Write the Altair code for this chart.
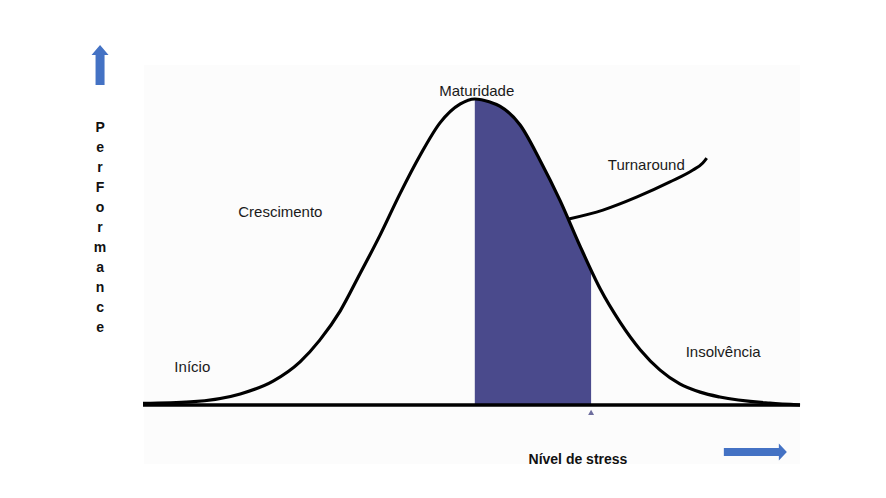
import altair as alt
import pandas as pd

# Bell curve (stress level vs performance)
stress = [0, 7.2, 14.8, 19.8, 23.9, 26.9, 30.0, 33.0, 36.1, 39.1, 42.2, 45.2, 48.3, 50.5,
          52.8, 54.3, 57.4, 60.4, 63.5, 66.5, 69.6, 72.6, 75.7, 78.7, 81.7, 84.8, 87.8, 95.4, 100]
perf = [0.5, 1.0, 3.6, 7.8, 14.1, 21.2, 30.7, 42.8, 55.6, 69.0, 81.7, 92.2, 98.4, 100,
        99.0, 97.7, 91.5, 80.1, 66.7, 52.0, 37.9, 27.1, 18.0, 11.4, 6.9, 4.2, 2.6, 0.6, 0]

# Shaded band (Maturidade to Turnaround)
shade_x = [50.5, 52.8, 54.3, 57.4, 60.4, 63.5, 66.5, 68.2]
shade_y = [100, 99.0, 97.7, 91.5, 80.1, 66.7, 52.0, 44.1]

# Turnaround pointer line
turn_x = [64.8, 70.0, 75.2, 80.2, 83.7, 85.2, 85.8]
turn_y = [60.8, 63.7, 68.0, 72.9, 76.8, 79.1, 80.7]

# Stage labels
labels = ["Maturidade", "Turnaround", "Crescimento", "Início", "Insolvência"]
label_x = [50.8, 76.6, 20.9, 7.5, 88.3]
label_y = [102.6, 78.4, 63.1, 12.4, 17.3]

x_title = "Nível de stress"
y_title = "PerFormance"

XD = [-20.55, 110.65]
YD = [-23.86, 129.74]
xs = alt.Scale(domain=XD, nice=False, zero=False)
ys = alt.Scale(domain=YD, nice=False, zero=False)

curve = pd.DataFrame({"s": stress, "p": perf})
shade = pd.DataFrame({"s": shade_x, "p": shade_y})
turn = pd.DataFrame({"s": turn_x, "p": turn_y})
lab = pd.DataFrame({"t": labels, "s": label_x, "p": label_y})
letters = pd.DataFrame({"t": list(y_title),
                        "s": [-6.54] * len(y_title),
                        "p": [90.5 - 6.54 * i for i in range(len(y_title))]})

bg = alt.Chart(pd.DataFrame({"a": [0.15], "b": [100], "c": [-19.3], "d": [111.1]})).mark_rect(
    color="#fcfcfc").encode(
    x=alt.X("a:Q", scale=xs, axis=None), x2="b:Q",
    y=alt.Y("c:Q", scale=ys, axis=None), y2="d:Q")

area = alt.Chart(shade).mark_area(color="#4a4a8c", interpolate="monotone").encode(
    x=alt.X("s:Q", scale=xs, axis=None),
    y=alt.Y("p:Q", scale=ys, axis=None), y2=alt.datum(0))

base = alt.Chart(pd.DataFrame({"a": [0], "b": [100], "y": [0]})).mark_rule(
    color="black", strokeWidth=3.5).encode(
    x=alt.X("a:Q", scale=xs, axis=None), x2="b:Q",
    y=alt.Y("y:Q", scale=ys, axis=None))

line = alt.Chart(curve).mark_line(color="black", strokeWidth=3.2, interpolate="monotone").encode(
    x=alt.X("s:Q", scale=xs, axis=None),
    y=alt.Y("p:Q", scale=ys, axis=None))

tline = alt.Chart(turn).mark_line(color="black", strokeWidth=3, interpolate="monotone").encode(
    x=alt.X("s:Q", scale=xs, axis=None),
    y=alt.Y("p:Q", scale=ys, axis=None))

texts = alt.Chart(lab).mark_text(font="Liberation Sans", fontSize=15, color="#1a1a1a",
                                 baseline="middle", align="center").encode(
    x=alt.X("s:Q", scale=xs, axis=None),
    y=alt.Y("p:Q", scale=ys, axis=None), text="t:N")

xt = alt.Chart(pd.DataFrame({"t": [x_title], "s": [66.2], "p": [-18.0]})).mark_text(
    font="Liberation Sans", fontSize=14, fontWeight="bold", color="#111",
    baseline="middle", align="center").encode(
    x=alt.X("s:Q", scale=xs, axis=None),
    y=alt.Y("p:Q", scale=ys, axis=None), text="t:N")

yt = alt.Chart(letters).mark_text(font="Liberation Sans", fontSize=14, fontWeight="bold",
                                  color="#111", baseline="middle", align="center").encode(
    x=alt.X("s:Q", scale=xs, axis=None),
    y=alt.Y("p:Q", scale=ys, axis=None), text="t:N")

up_path = "M -0.225 1 L -0.225 -0.5 L -0.425 -0.5 L 0 -1 L 0.425 -0.5 L 0.225 -0.5 L 0.225 1 Z"
right_path = "M -1 -0.127 L 0.746 -0.127 L 0.746 -0.27 L 1 0 L 0.746 0.27 L 0.746 0.127 L -1 0.127 Z"

up = alt.Chart(pd.DataFrame({"s": [-6.54], "p": [111.1]})).mark_point(
    shape=up_path, size=1600, filled=True, color="#4472c4", opacity=1, strokeWidth=0).encode(
    x=alt.X("s:Q", scale=xs, axis=None), y=alt.Y("p:Q", scale=ys, axis=None))

right = alt.Chart(pd.DataFrame({"s": [93.2], "p": [-15.4]})).mark_point(
    shape=right_path, size=3969, filled=True, color="#4472c4", opacity=1, strokeWidth=0).encode(
    x=alt.X("s:Q", scale=xs, axis=None), y=alt.Y("p:Q", scale=ys, axis=None))

marker = alt.Chart(pd.DataFrame({"s": [68.2], "p": [-2.4]})).mark_point(
    shape="triangle-up", size=35, filled=True, color="#6e6e9e", opacity=1).encode(
    x=alt.X("s:Q", scale=xs, axis=None), y=alt.Y("p:Q", scale=ys, axis=None))

chart = alt.layer(bg, area, base, line, tline, texts, xt, yt, up, right, marker).properties(
    width=862, height=470, padding=0, autosize=alt.AutoSizeParams(type="none"),
    background="white"
).configure_view(strokeWidth=0)

chart.save("out.html", embed_options={"renderer": "svg", "actions": False})
